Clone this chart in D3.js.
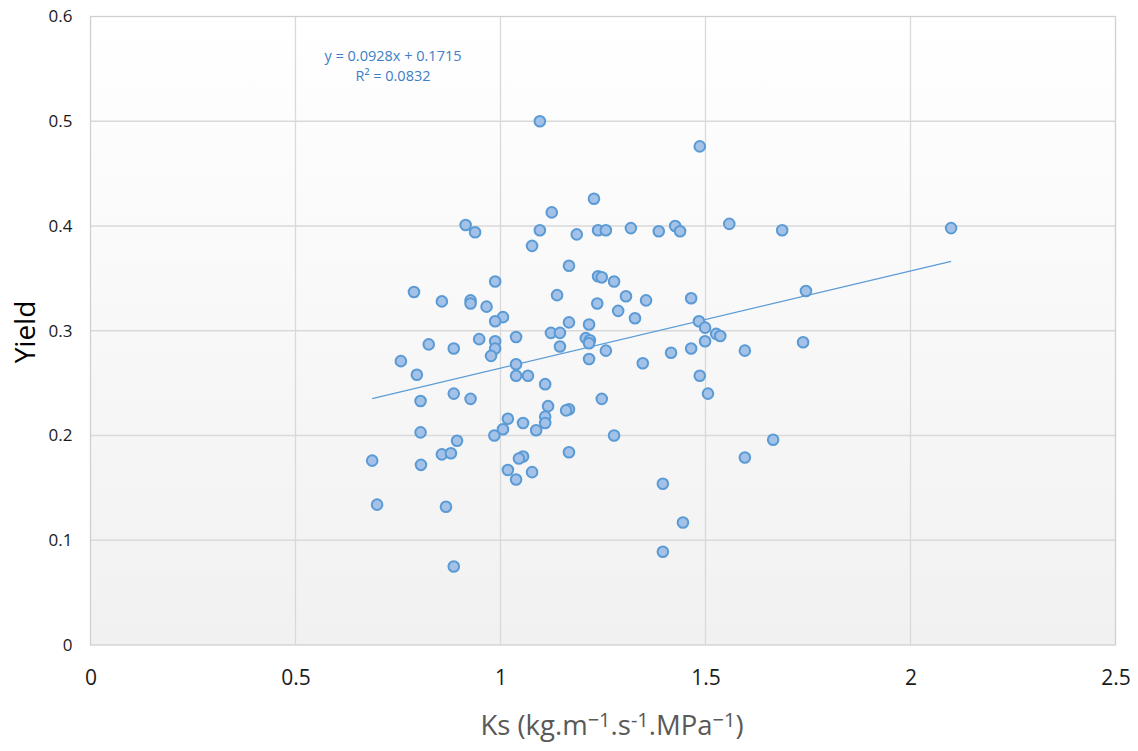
<html>
<script src="https://d3js.org/d3.v7.min.js"></script>
<style>
body { margin: 0; background: white; }
text { font-family: "Open Sans", "Noto Sans", sans-serif; }
</style>
<body>
<svg width="1138" height="751"></svg>
<script>
// Ks (x) and Yield (y)
var ks = [1.096, 1.486, 1.228, 0.915, 0.938, 1.125, 1.096, 1.077, 1.186, 1.238,
          1.257, 1.318, 1.386, 1.426, 1.438, 1.558, 1.687, 2.099, 1.167, 1.238,
          1.247, 1.277, 0.987, 1.138, 1.306, 1.355, 1.465, 1.745, 0.789, 0.857,
          0.927, 0.927, 0.966, 1.006, 0.987, 1.236, 1.287, 1.328, 1.167, 1.216,
          1.123, 1.145, 1.484, 1.499, 1.526, 1.536, 1.499, 0.948, 0.987, 1.038,
          1.208, 1.218, 1.216, 1.145, 0.757, 0.825, 0.886, 0.987, 0.977, 1.038,
          1.216, 1.257, 1.347, 1.416, 1.465, 1.596, 1.738, 0.796, 1.038, 1.067,
          1.109, 1.486, 1.506, 0.886, 0.927, 0.805, 1.247, 1.116, 1.167, 1.160,
          1.109, 1.018, 1.109, 1.055, 1.006, 1.087, 0.805, 0.985, 1.277, 0.894,
          1.665, 0.857, 0.879, 1.167, 1.596, 1.055, 1.045, 0.687, 0.806, 1.018,
          1.077, 1.038, 1.396, 0.699, 0.867, 1.445, 1.396, 0.886];
var yieldv = [0.500, 0.476, 0.426, 0.401, 0.394, 0.413, 0.396, 0.381, 0.392, 0.396,
              0.396, 0.398, 0.395, 0.400, 0.395, 0.402, 0.396, 0.398, 0.362, 0.352,
              0.351, 0.347, 0.347, 0.334, 0.333, 0.329, 0.331, 0.338, 0.337, 0.328,
              0.329, 0.326, 0.323, 0.313, 0.309, 0.326, 0.319, 0.312, 0.308, 0.306,
              0.298, 0.298, 0.309, 0.303, 0.297, 0.295, 0.290, 0.292, 0.290, 0.294,
              0.293, 0.291, 0.288, 0.285, 0.271, 0.287, 0.283, 0.283, 0.276, 0.268,
              0.273, 0.281, 0.269, 0.279, 0.283, 0.281, 0.289, 0.258, 0.257, 0.257,
              0.249, 0.257, 0.240, 0.240, 0.235, 0.233, 0.235, 0.228, 0.225, 0.224,
              0.218, 0.216, 0.212, 0.212, 0.206, 0.205, 0.203, 0.200, 0.200, 0.195,
              0.196, 0.182, 0.183, 0.184, 0.179, 0.180, 0.178, 0.176, 0.172, 0.167,
              0.165, 0.158, 0.154, 0.134, 0.132, 0.117, 0.089, 0.075];

var xTicks = [0, 0.5, 1, 1.5, 2, 2.5];
var yTicks = [0, 0.1, 0.2, 0.3, 0.4, 0.5, 0.6];
var slope = 0.0928, intercept = 0.1715, r2 = 0.0832;

var pLeft = 90.5, pRight = 1115.5, pTop = 16.5, pBottom = 645;

var xs = d3.scaleLinear().domain([0, 2.5]).range([pLeft, pRight]);
var ys = d3.scaleLinear().domain([0, 0.6]).range([pBottom, pTop]);

var svg = d3.select("svg");

var grad = svg.append("defs").append("linearGradient")
  .attr("id", "bg").attr("x1", 0).attr("y1", 0).attr("x2", 0).attr("y2", 1);
grad.append("stop").attr("offset", "0%").attr("stop-color", "#ffffff");
grad.append("stop").attr("offset", "100%").attr("stop-color", "#f1f1f1");

svg.append("rect")
  .attr("x", pLeft).attr("y", pTop)
  .attr("width", pRight - pLeft).attr("height", pBottom - pTop)
  .attr("fill", "url(#bg)");

// grid
svg.append("g").selectAll("line").data(yTicks.slice(1, -1)).enter().append("line")
  .attr("x1", pLeft).attr("x2", pRight)
  .attr("y1", function(d) { return ys(d); }).attr("y2", function(d) { return ys(d); })
  .attr("stroke", "#d9d9d9").attr("stroke-width", 1.3);
svg.append("g").selectAll("line").data(xTicks.slice(1, -1)).enter().append("line")
  .attr("y1", pTop).attr("y2", pBottom)
  .attr("x1", function(d) { return xs(d); }).attr("x2", function(d) { return xs(d); })
  .attr("stroke", "#d9d9d9").attr("stroke-width", 1.3);

svg.append("rect")
  .attr("x", pLeft).attr("y", pTop)
  .attr("width", pRight - pLeft).attr("height", pBottom - pTop)
  .attr("fill", "none").attr("stroke", "#d0d0d0").attr("stroke-width", 1.3);

// axes labels
var xAxis = d3.axisBottom(xs).tickValues(xTicks).tickSize(0).tickPadding(25)
  .tickFormat(function(d) { return d; });
var gx = svg.append("g").attr("transform", "translate(0," + pBottom + ")").call(xAxis);
gx.select(".domain").remove();
gx.attr("font-size", 21).attr("font-family", null);
gx.selectAll("text").attr("fill", "#1a1a1a");

var yAxis = d3.axisLeft(ys).tickValues(yTicks).tickSize(0).tickPadding(18)
  .tickFormat(function(d) { return d; });
var gy = svg.append("g").attr("transform", "translate(" + pLeft + ",0)").call(yAxis);
gy.select(".domain").remove();
gy.attr("font-size", 17).attr("font-family", null);
gy.selectAll("text").attr("fill", "#1a1a1a");

// x title with raised exponents
var xt = svg.append("text")
  .attr("x", 612).attr("y", 735)
  .attr("text-anchor", "middle")
  .attr("font-size", 27.5).attr("fill", "#595959");
[["Ks (kg.m", false], ["\u22121", true], [".s", false], ["-1", true],
 [".MPa", false], ["\u22121", true], [")", false]].forEach(function(p) {
  var t = xt.append("tspan").text(p[0]);
  if (p[1]) t.attr("font-size", 20).attr("baseline-shift", "40%");
});

svg.append("text")
  .attr("transform", "translate(35,332) rotate(-90)")
  .attr("text-anchor", "middle")
  .attr("font-size", 28).attr("fill", "#000")
  .text("Yield");

// trend line
var xmin = d3.min(ks), xmax = d3.max(ks);
svg.append("line")
  .attr("x1", xs(xmin)).attr("y1", ys(slope * xmin + intercept))
  .attr("x2", xs(xmax)).attr("y2", ys(slope * xmax + intercept))
  .attr("stroke", "#5b9bd5").attr("stroke-width", 1.2);

// points
svg.append("g").selectAll("circle").data(ks).enter().append("circle")
  .attr("cx", function(d) { return xs(d); })
  .attr("cy", function(d, i) { return ys(yieldv[i]); })
  .attr("r", 5.3)
  .attr("fill", "#a4c1e8")
  .attr("stroke", "#5b9bd5")
  .attr("stroke-width", 2);

// equation
var eq = svg.append("text").attr("text-anchor", "middle")
  .attr("font-size", 14.5).attr("fill", "#3d7ec6");
eq.append("tspan").attr("x", 393).attr("y", 61)
  .text("y = " + slope + "x + " + intercept);
eq.append("tspan").attr("x", 393).attr("y", 81)
  .text("R\u00B2 = " + r2);
</script>
</body>
</html>
